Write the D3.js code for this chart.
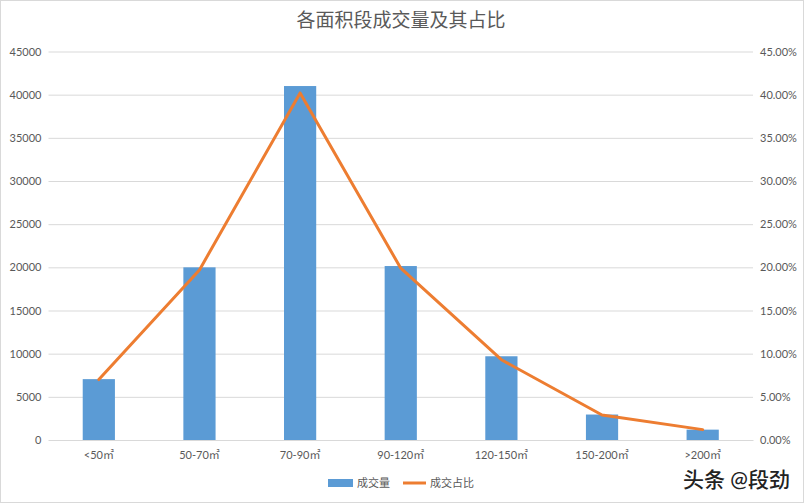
<!DOCTYPE html>
<html><head><meta charset="utf-8">
<script src="https://cdn.jsdelivr.net/npm/d3@7/dist/d3.min.js"></script>
<style>body{margin:0;background:#fff}svg text{font-family:Lato,"Noto Sans CJK SC",sans-serif}</style>
</head><body><svg id="c" width="804" height="503"></svg>
<script>
const categories = ["<50㎡","50-70㎡","70-90㎡","90-120㎡","120-150㎡","150-200㎡",">200㎡"];
const volume = [7050, 20000, 41000, 20150, 9700, 2950, 1200];
const share = [0.070, 0.197, 0.402, 0.199, 0.093, 0.029, 0.012];
const leftTicks = [0,5000,10000,15000,20000,25000,30000,35000,40000,45000];
const rightTicks = [0,0.05,0.10,0.15,0.20,0.25,0.30,0.35,0.40,0.45];

const svg = d3.select("#c");
const W=804,H=503;
svg.append("rect").attr("x",0.5).attr("y",0.5).attr("width",W-1).attr("height",H-1).attr("fill","#fff").attr("stroke","#d9d9d9");
const L=48.5,R=753,T=51.5,B=440;
const x = d3.scaleBand().domain(categories).range([L,R]).paddingInner(0.68).paddingOuter(0.34);
const xc = d3.scalePoint().domain(categories).range([L,R]).padding(0.5);
const y = d3.scaleLinear().domain([0,45000]).range([B,T]);
const y2 = d3.scaleLinear().domain([0,0.45]).range([B,T]);
const grey="#595959";

const gl = svg.append("g").attr("transform",`translate(${L},0)`)
 .call(d3.axisLeft(y).tickValues(leftTicks).tickSize(-(R-L)).tickPadding(7).tickFormat(d3.format("d")));
gl.select(".domain").remove();
gl.selectAll(".tick line").attr("stroke","#d9d9d9");
gl.selectAll(".tick text").attr("fill",grey).style("font-size","11px");

const gr = svg.append("g").attr("transform",`translate(${R},0)`)
 .call(d3.axisRight(y2).tickValues(rightTicks).tickSize(0).tickPadding(7).tickFormat(d3.format(".2%")));
gr.select(".domain").remove();
gr.selectAll(".tick text").attr("fill",grey).style("font-size","11px");

svg.append("g").selectAll("rect").data(volume).join("rect")
 .attr("x",(d,i)=>x(categories[i])).attr("width",x.bandwidth())
 .attr("y",d=>y(d)).attr("height",d=>B-y(d)).attr("fill","#5b9bd5");

const gx = svg.append("g").attr("transform",`translate(0,${B})`)
 .call(d3.axisBottom(x).tickSize(0).tickPadding(11));
gx.select(".domain").attr("stroke","#d9d9d9");
gx.selectAll(".tick text").attr("fill",grey).style("font-size","11px");

svg.append("path").datum(share)
 .attr("d",d3.line().x((d,i)=>xc(categories[i])).y(d=>y2(d)))
 .attr("fill","none").attr("stroke","#ed7d31").attr("stroke-width",3).attr("stroke-linejoin","round").attr("stroke-linecap","round");

svg.append("text").attr("x",401).attr("y",27).attr("text-anchor","middle")
 .attr("fill",grey).style("font-size","19px").text("各面积段成交量及其占比");

// legend
svg.append("rect").attr("x",328).attr("y",479).attr("width",25).attr("height",8).attr("fill","#5b9bd5");
svg.append("text").attr("x",357).attr("y",487).attr("fill",grey).style("font-size","11px").text("成交量");
svg.append("line").attr("x1",403).attr("x2",426).attr("y1",483).attr("y2",483).attr("stroke","#ed7d31").attr("stroke-width",3);
svg.append("text").attr("x",430).attr("y",487).attr("fill",grey).style("font-size","11px").text("成交占比");

// watermark
svg.append("text").attr("x",683).attr("y",487).attr("fill","#222").attr("stroke","#fff").attr("stroke-width",2).attr("paint-order","stroke")
 .style("font-size","21px").style("font-weight","500").text("头条 @段劲");
</script></body></html>
